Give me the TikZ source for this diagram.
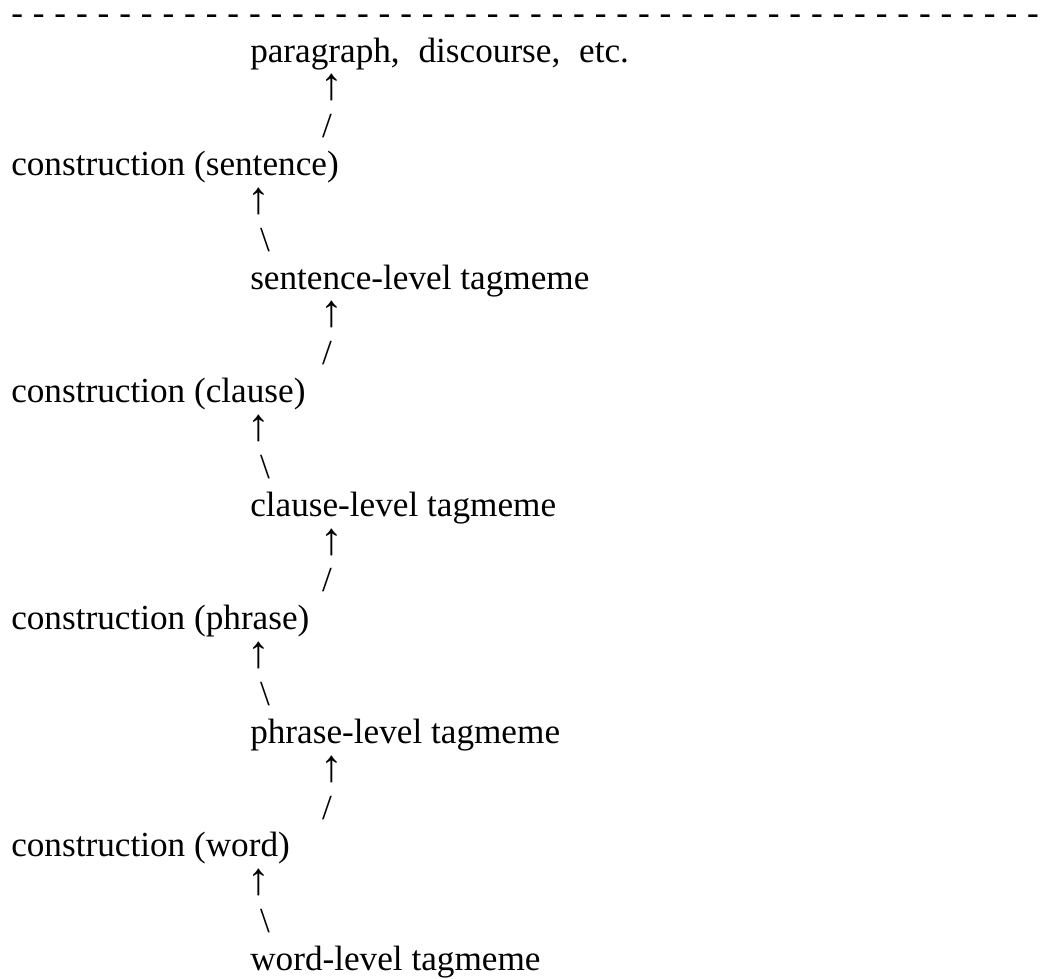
\documentclass[tikz,border=0pt]{standalone}
\usepackage{fontspec}
\setmainfont{Liberation Serif}
\newcommand\hy{-\hspace{7.42pt}}
\tikzset{
  lbl/.style={anchor=base west, inner sep=0pt, font=\fontsize{26.4}{30}\selectfont},
  glyph/.style={anchor=base, inner sep=0pt, font=\fontsize{26.4}{30}\selectfont},
  uparrow/.style={anchor=base, inner sep=0pt, font=\fontsize{34}{36}\selectfont}
}
\begin{document}
\begin{tikzpicture}[x=0.75pt, y=-0.75pt]
\useasboundingbox (0,0) rectangle (1049,978);
\node[lbl] (rule) at (11,24.5) {\hy\hy\hy\hy\hy\hy\hy\hy\hy\hy\hy\hy\hy\hy\hy\hy\hy\hy\hy\hy\hy\hy\hy\hy\hy\hy\hy\hy\hy\hy\hy\hy\hy\hy\hy\hy\hy\hy\hy\hy\hy\hy\hy\hy\hy\hy\hy-};
% level labels
\node[lbl] (par) at (250,62) {paragraph,\hspace{7.5pt} discourse,\hspace{7.5pt} etc.};
\node[uparrow] (a1) at (332,99.85) {↑};
\node[glyph] (s1) at (327,137.7) {/};
\node[lbl] (cs) at (11,175.55) {construction (sentence)};
\node[uparrow] (a2) at (259,213.4) {↑};
\node[glyph] (b2) at (265,251.25) {\textbackslash};
\node[lbl] (ts) at (250,289.1) {sentence-level tagmeme};
\node[uparrow] (a3) at (332,326.95) {↑};
\node[glyph] (s3) at (327,364.8) {/};
\node[lbl] (cc) at (11,402.65) {construction (clause)};
\node[uparrow] (a4) at (259,440.5) {↑};
\node[glyph] (b4) at (265,478.35) {\textbackslash};
\node[lbl] (tc) at (250,516.2) {clause-level tagmeme};
\node[uparrow] (a5) at (332,554.05) {↑};
\node[glyph] (s5) at (327,591.9) {/};
\node[lbl] (cp) at (11,629.75) {construction (phrase)};
\node[uparrow] (a6) at (259,667.6) {↑};
\node[glyph] (b6) at (265,705.45) {\textbackslash};
\node[lbl] (tp) at (250,743.3) {phrase-level tagmeme};
\node[uparrow] (a7) at (332,781.15) {↑};
\node[glyph] (s7) at (327,819) {/};
\node[lbl] (cw) at (11,856.85) {construction (word)};
\node[uparrow] (a8) at (259,894.7) {↑};
\node[glyph] (b8) at (265,932.55) {\textbackslash};
\node[lbl] (tw) at (250,970.4) {word-level tagmeme};
\end{tikzpicture}
\end{document}
